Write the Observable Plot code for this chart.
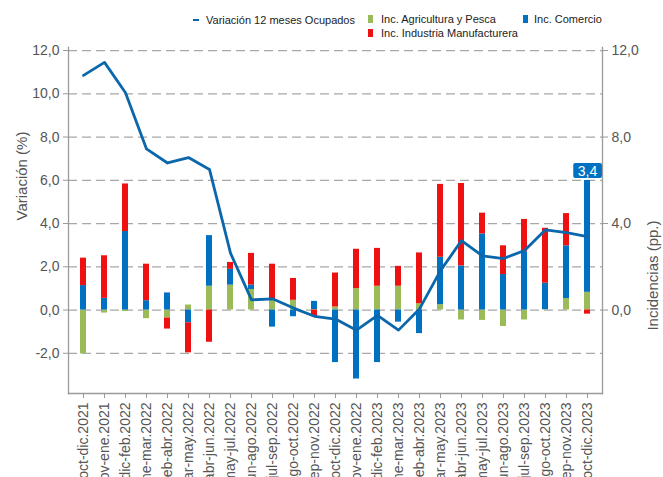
<!DOCTYPE html>
<html><head><meta charset="utf-8">
<script src="https://cdn.jsdelivr.net/npm/d3@7"></script>
<script src="https://cdn.jsdelivr.net/npm/@observablehq/plot@0.6"></script>
<style>
body{margin:0;background:#fff;font-family:"Liberation Sans",Arial,sans-serif;}
#wrap{position:relative;width:663px;height:477px;overflow:hidden;background:#fff;}
#legend{position:relative;height:42px;font-size:11px;color:#222;}
.li{position:absolute;white-space:nowrap;line-height:13px;}
.sw{position:absolute;}
#chart svg{display:block;}
</style></head><body><div id="wrap"><div id="legend"></div><div id="chart"></div></div>
<script>
const categories = ["oct-dic.2021","nov-ene.2021","dic-feb.2022","ene-mar.2022","feb-abr.2022","mar-may.2022","abr-jun.2022","may-jul.2022","jun-ago.2022","jul-sep.2022","ago-oct.2022","sep-nov.2022","oct-dic.2022","nov-ene.2022","dic-feb.2023","ene-mar.2023","feb-abr.2023","mar-may.2023","abr-jun.2023","may-jul.2023","jun-ago.2023","jul-sep.2023","ago-oct.2023","sep-nov.2023","oct-dic.2023"];
const variacion = [10.85,11.45,10.05,7.45,6.8,7.05,6.5,2.63,0.47,0.52,0.09,-0.29,-0.42,-0.93,-0.25,-0.93,0.05,1.82,3.21,2.50,2.38,2.75,3.71,3.58,3.40];
const agricultura = [-2.03,-0.14,-0.07,-0.40,-0.37,0.23,1.10,1.15,0.95,0.48,0.45,0.02,0.14,0.99,1.10,1.10,0.29,0.25,-0.46,-0.48,-0.76,-0.46,0.02,0.53,0.82];
const comercio = [1.13,0.54,3.63,0.43,0.79,-0.59,2.34,0.73,0.21,-0.79,-0.31,0.38,-2.43,-3.19,-2.43,-0.56,-1.09,2.19,2.04,3.52,1.64,2.69,1.22,2.44,5.17];
const industria = [1.27,1.97,2.20,1.69,-0.51,-1.39,-1.49,0.32,1.46,1.64,1.01,-0.31,1.57,1.82,1.75,0.92,2.35,3.37,3.81,0.96,1.33,1.50,2.54,1.49,-0.19];
const seriesNames = ["Inc. Agricultura y Pesca","Inc. Comercio","Inc. Industria Manufacturera"];
const lineName = "Variación 12 meses Ocupados";
const leftTicks = [-2,0,2,4,6,8,10,12];
const rightTicks = [0,4,8,12];
const yTitleLeft = "Variación (%)";
const yTitleRight = "Incidencias (pp.)";

const colors = ["#9bbb59","#0070c0","#ee1111"];
const lineColor = "#0b67ac";

// legend
const legend = document.getElementById("legend");
function addItem(sx, sy, sw, sh, color, tx, ty, label){
  const s = document.createElement("div"); s.className="sw";
  Object.assign(s.style,{left:sx+"px",top:sy+"px",width:sw+"px",height:sh+"px",background:color});
  legend.appendChild(s);
  const t = document.createElement("div"); t.className="li";
  Object.assign(t.style,{left:tx+"px",top:ty+"px"}); t.textContent=label;
  legend.appendChild(t);
}
addItem(193,18.5,6,2.5,lineColor,206,13.5,lineName);
addItem(368,15,5,8,colors[0],381,13,seriesNames[0]);
addItem(523,15,5,8,colors[1],534,13,seriesNames[1]);
addItem(368,29,5,8,colors[2],381,27,seriesNames[2]);

const stackData = [];
[agricultura, comercio, industria].forEach((arr, s) => {
  arr.forEach((v, i) => stackData.push({cat: categories[i], series: seriesNames[s], value: v}));
});
const lineData = variacion.map((v, i) => ({cat: categories[i], value: v}));
const last = categories.length - 1;
const lastTop = [agricultura[last], comercio[last], industria[last]].filter(v => v > 0).reduce((a,b)=>a+b,0);
const fmt = d => d.toFixed(1).replace(".", ",");

const chart = Plot.plot({
  width: 663, height: 435,
  marginTop: 5, marginBottom: 84, marginLeft: 68, marginRight: 61,
  style: {fontFamily: "Liberation Sans, Arial, sans-serif", fontSize: "14px", color: "#555", background: "#fff"},
  x: {domain: categories, padding: 0.23},
  y: {domain: [-3.86, 12.14]},
  color: {domain: seriesNames, range: colors},
  marks: [
    Plot.ruleY(leftTicks, {stroke: "#a8a8a8", strokeWidth: 1.3, strokeDasharray: "9,5"}),
    Plot.barY(stackData, {x: "cat", y: "value", fill: "series", insetLeft: 5, insetRight: 5}),
    Plot.line(lineData, {x: "cat", y: "value", stroke: lineColor, strokeWidth: 2.8}),
    Plot.axisY({anchor: "left", ticks: leftTicks, tickFormat: fmt, tickSize: 5, label: null, stroke: "#999", fill: "#555", fontSize: 14}),
    Plot.axisY({anchor: "right", ticks: rightTicks, tickFormat: fmt, tickSize: 5, label: null, stroke: "#999", fill: "#555", fontSize: 14}),
    Plot.axisX({anchor: "bottom", tickRotate: -90, tickSize: 5, label: null, stroke: "#999", fill: "#555", fontSize: 14}),
    Plot.frame({anchor: "left", stroke: "#9a9a9a", strokeWidth: 1.3}),
    Plot.frame({anchor: "right", stroke: "#9a9a9a", strokeWidth: 1.3}),
    Plot.frame({anchor: "bottom", stroke: "#9a9a9a", strokeWidth: 1.3}),
    Plot.text([yTitleLeft], {text: d => d, frameAnchor: "left", dx: -46, rotate: -90, fontSize: 15, fill: "#555"}),
    Plot.text([yTitleRight], {text: d => d, frameAnchor: "right", dx: 51, rotate: -90, fontSize: 15, fill: "#555"}),
    Plot.text([variacion[last]], {x: () => categories[last], y: () => lastTop, text: d => fmt(d), dy: -9, fill: "white", fontSize: 14})
  ]
});
document.getElementById("chart").appendChild(chart);

// background box behind the last-value label
const lbl = Array.from(chart.querySelectorAll("text")).find(t => t.textContent === fmt(variacion[last]) && t.getAttribute("fill") !== "#555");
if (lbl) {
  const bb = lbl.getBBox();
  const r = document.createElementNS("http://www.w3.org/2000/svg", "rect");
  r.setAttribute("x", bb.x - 4.5);
  r.setAttribute("y", bb.y);
  r.setAttribute("width", bb.width + 9);
  r.setAttribute("height", bb.height - 1);
  r.setAttribute("rx", 2);
  r.setAttribute("fill", "#0070c0");
  if (lbl.getAttribute("transform")) r.setAttribute("transform", lbl.getAttribute("transform"));
  lbl.parentNode.insertBefore(r, lbl);
}
</script></body></html>
